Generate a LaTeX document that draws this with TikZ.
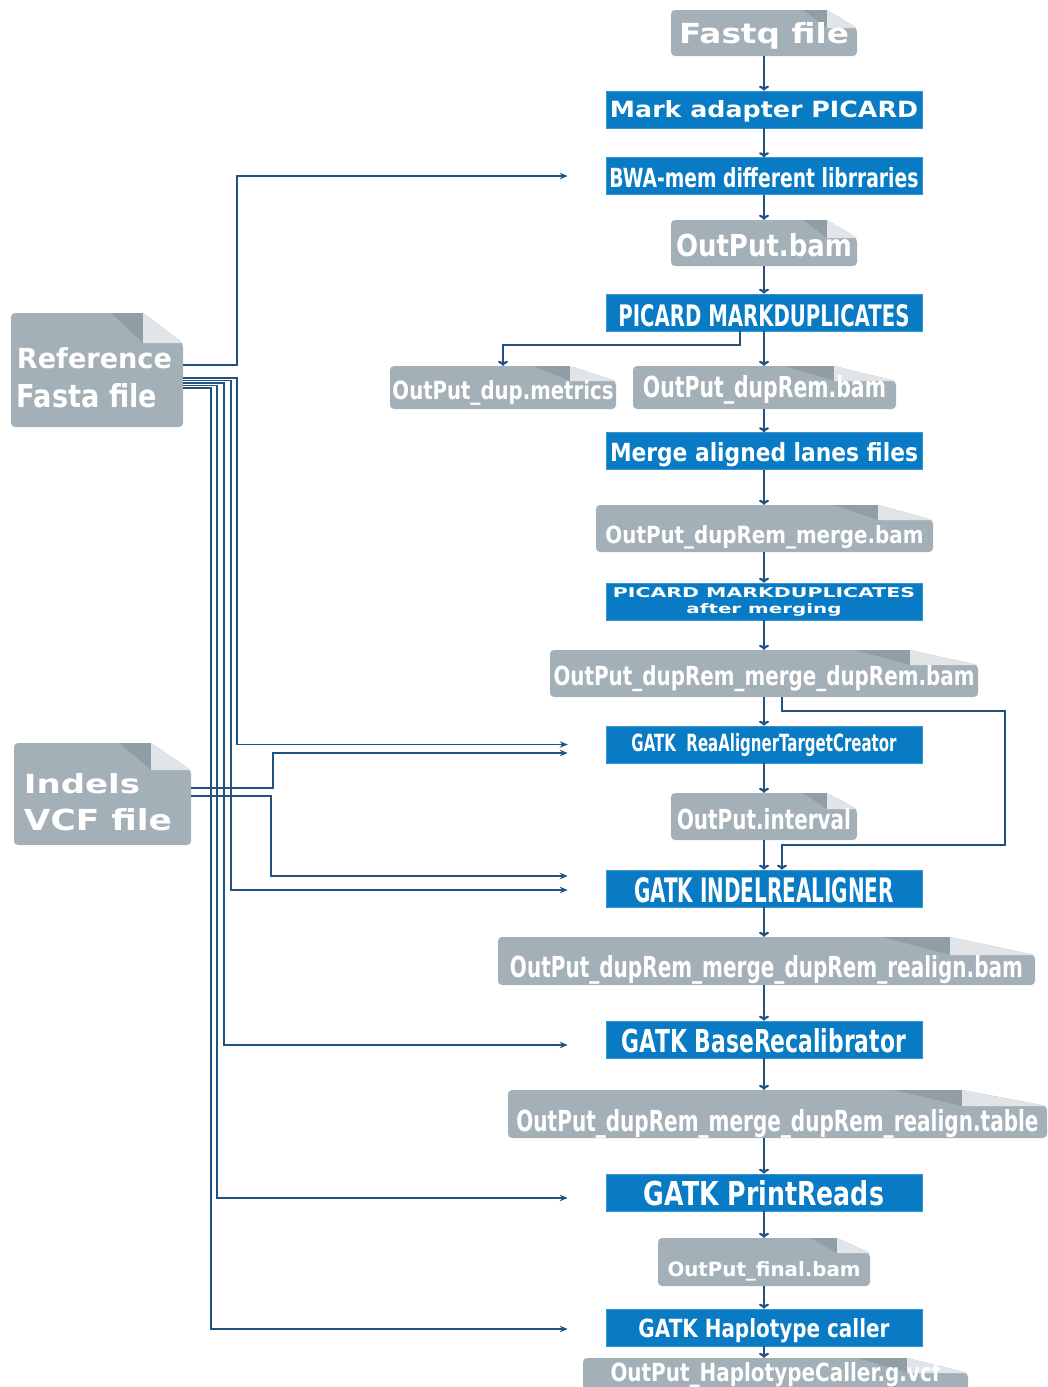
\documentclass[tikz,border=0pt]{standalone}
\usepackage{fontspec}
\setmainfont{DejaVu Sans}
\usepackage{graphicx}
\usetikzlibrary{arrows.meta}

\definecolor{procblue}{RGB}{8,123,196}
\definecolor{filegray}{RGB}{164,176,184}
\definecolor{folddark}{RGB}{146,158,166}
\definecolor{foldlight}{RGB}{225,229,232}
\definecolor{linkblue}{RGB}{33,82,128}

\newcommand{\fitlabel}[3]{\resizebox{#1pt}{#2pt}{#3}}

% file icon: name, left, top, right, bottom, fold width, fold height, baseline, text
\newcommand{\docfile}[9]{%
  \pgfmathsetmacro\dfX{(#2+#4)/2}%
  \pgfmathsetmacro\dfY{(#3+#5)/2}%
  \pgfmathsetmacro\dfW{#4-#2}%
  \pgfmathsetmacro\dfH{#5-#3}%
  \pgfmathsetmacro\dfT{2*(#8-\dfY)}%
  \fill[filegray, rounded corners=4pt] (#2,#5) -- (#2,#3) -- ({#4-#6},#3) -- (#4,{#3+#7}) -- (#4,#5) -- cycle;
  \fill[folddark] ({#4-1.8*#6},#3) -- ({#4-#6},#3) -- ({#4-#6},{#3+#7}) -- cycle;
  \fill[foldlight] ({#4-#6},#3) -- (#4,{#3+#7}) -- ({#4-#6},{#3+#7}) -- cycle;
  \node[filebox, minimum width=\dfW pt, minimum height=\dfH pt, text height=\dfT pt] (#1) at (\dfX,\dfY) {#9};
}

\begin{document}
\begin{tikzpicture}[x=1pt, y=-1pt,
  filebox/.style={inner sep=0pt, text=white, text depth=0pt, font=\bfseries},
  procbox/.style={fill=procblue, draw=procblue!80!white, line width=0.6pt, minimum width=316pt,
    minimum height=37pt, inner sep=0pt, text=white, text depth=0pt, font=\bfseries},
  flow/.style={linkblue, line width=2.2pt, -{To[length=5pt,width=10pt]}},
  feed/.style={linkblue, line width=1.9pt, -{Stealth[length=8pt,width=6.5pt]}}]
  \clip (0,0) rectangle (1048,1387);
  \coordinate (axis) at (764,0);

  % main column
  \docfile{fastq}{671}{10}{857}{56}{30}{18}{43}{\fitlabel{170}{21}{Fastq file}}
  \node[procbox, text height=15pt] (mark) at (764,109.5) {\fitlabel{308}{17}{Mark adapter PICARD}};
  \node[procbox, text height=22pt] (bwa) at (764,176) {\fitlabel{309}{20}{BWA-mem different librraries}};
  \docfile{outbam}{671}{220}{857}{266}{30}{18}{256}{\fitlabel{176}{23}{OutPut.bam}}
  \node[procbox, text height=27pt] (pmd) at (764,312.5) {\fitlabel{291}{22}{PICARD MARKDUPLICATES}};
  \docfile{metrics}{390}{366}{616}{409}{46}{15}{399}{\fitlabel{221}{19}{OutPut\_dup.metrics}}
  \docfile{duprem}{633}{366}{896}{409}{62}{15}{397}{\fitlabel{243}{22}{OutPut\_dupRem.bam}}
  \node[procbox, text height=20pt] (mergelanes) at (764,451) {\fitlabel{308}{19}{Merge aligned lanes files}};
  \docfile{merged}{596}{505}{933}{552}{55}{15}{543}{\fitlabel{318}{18}{OutPut\_dupRem\_merge.bam}}
  \node[procbox, text height=23pt] (pmdmerge) at (764,601.5) {\vbox{\baselineskip=16pt\lineskiplimit=-100pt
    \hbox to 302pt{\hss\fitlabel{302}{10}{PICARD MARKDUPLICATES}\hss}
    \hbox to 302pt{\hss\fitlabel{155}{10}{after merging}\hss}}};
  \docfile{dedup}{550}{650}{978}{697}{68}{15}{685}{\fitlabel{421}{20}{OutPut\_dupRem\_merge\_dupRem.bam}}
  \node[procbox, text height=13pt] (rtc) at (764,744.5) {\fitlabel{265}{18}{GATK\ \ ReaAlignerTargetCreator}};
  \docfile{interval}{671}{793}{857}{840}{30}{16}{829}{\fitlabel{174}{21}{OutPut.interval}}
  \node[procbox, text height=27pt] (indel) at (764,888.5) {\fitlabel{260}{25}{GATK INDELREALIGNER}};
  \docfile{realign}{498}{937}{1035}{985}{85}{18}{977}{\fitlabel{513}{22}{OutPut\_dupRem\_merge\_dupRem\_realign.bam}}
  \node[procbox, text height=25pt] (base) at (764,1039.5) {\fitlabel{284}{24}{GATK BaseRecalibrator}};
  \docfile{recaltable}{508}{1090}{1047}{1138}{85}{16}{1131}{\fitlabel{522}{22}{OutPut\_dupRem\_merge\_dupRem\_realign.table}}
  \node[procbox, text height=25pt] (print) at (764,1192.5) {\fitlabel{240}{25}{GATK PrintReads}};
  \docfile{final}{658}{1238}{870}{1286}{33}{15}{1276}{\fitlabel{193}{15}{OutPut\_final.bam}}
  \node[procbox, text height=19pt] (hap) at (764,1327.5) {\fitlabel{251}{19}{GATK Haplotype caller}};
  \docfile{gvcf}{583}{1358}{968}{1400}{61}{15}{1381}{\fitlabel{330}{19}{OutPut\_HaplotypeCaller.g.vcf}}

  % inputs on the left
  \docfile{fasta}{11}{313}{183}{427}{40}{30}{407}{\vbox{\baselineskip=39pt\lineskiplimit=-100pt
    \hbox{\fitlabel{155}{21}{Reference}\kern5pt}
    \hbox{\fitlabel{140}{24}{Fasta file}\kern20pt}}}
  \docfile{indels}{14}{743}{191}{845}{40}{27}{830}{\vbox{\baselineskip=37pt\lineskiplimit=-100pt
    \hbox{\fitlabel{116}{20}{Indels}}
    \hbox{\fitlabel{148}{22}{VCF file}\kern9pt}}}

  % flow down the column
  \foreach \a/\b in {fastq/mark, mark/bwa, bwa/outbam, outbam/pmd, pmd/duprem, duprem/mergelanes,
      mergelanes/merged, merged/pmdmerge, pmdmerge/dedup, dedup/rtc, rtc/interval, interval/indel,
      indel/realign, realign/base, base/recaltable, recaltable/print, print/final, final/hap, hap/gvcf}
    \draw[flow] (\a.south -| axis) -- (\b.north -| axis);
  \draw[flow] ([xshift=-24pt]pmd.south) -- ++(0,14) -| (metrics.north);
  \draw[flow] ([xshift=18pt]dedup.south) -- ++(0,14) -- ++(223,0) -- ++(0,134) -| ([xshift=18pt]indel.north);

  % reference and indels feeds
  \draw[feed] ([yshift=5pt]fasta.east) -- ++(54,0) |- ([xshift=-38pt]bwa.west);
  \foreach \dy/\dx/\tgt/\ty in {8/54/rtc/0, 10.5/48/indel/-1.5, 13/41/base/-5.5, 15.5/34/print/-5.5, 18/28/hap/-1.5}
    \draw[feed] ([yshift=-\dy pt]fasta.east) -- ++(\dx,0) |- ([xshift=-38pt,yshift=\ty pt]\tgt.west);
  \draw[feed] ([yshift=6pt]indels.east) -- ++(82,0) |- ([xshift=-38pt,yshift=-8.5pt]rtc.west);
  \draw[feed] ([yshift=-2pt]indels.east) -- ++(80,0) |- ([xshift=-38pt,yshift=12.5pt]indel.west);
\end{tikzpicture}
\end{document}
